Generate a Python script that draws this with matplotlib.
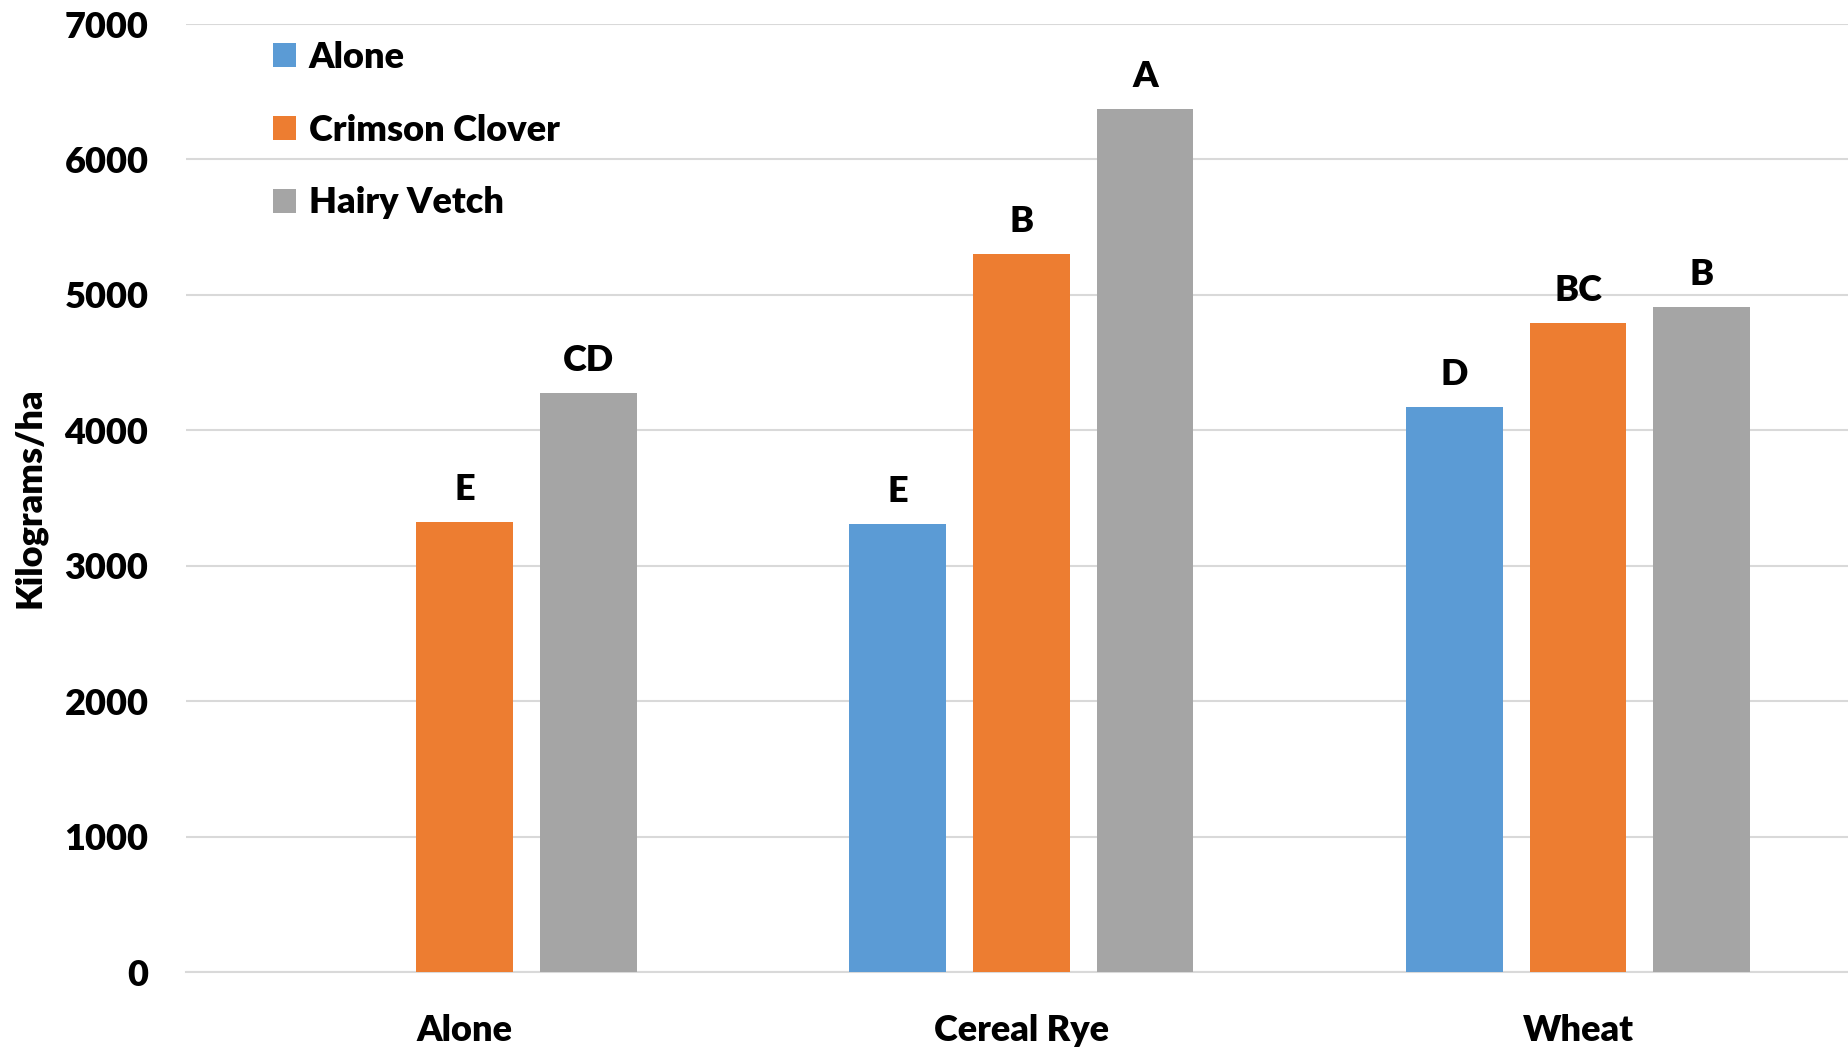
import numpy as np
import matplotlib.pyplot as plt

categories = ['Alone', 'Cereal Rye', 'Wheat']
series = ['Alone', 'Crimson Clover', 'Hairy Vetch']
alone = [np.nan, 3306, 4173]
crimson = [3323, 5298, 4791]
hairy = [4276, 6369, 4909]
letters = [['', 'E', 'D'], ['E', 'B', 'BC'], ['CD', 'A', 'B']]
colors = ['#5B9BD5', '#ED7D31', '#A5A5A5']

plt.rcParams['font.family'] = ['Lato', 'DejaVu Sans']

fig = plt.figure(figsize=(18.49, 10.47), dpi=100)
ax = fig.add_axes([186 / 1849, 75 / 1047, 1 - 186 / 1849, (972 - 24) / 1047])

fs = 26
fw = 'heavy'

x = np.arange(len(categories))
width = 0.174
step = 0.222
data = [alone, crimson, hairy]
for i, (vals, name) in enumerate(zip(data, series)):
    xs = x + (i - 1) * step
    ax.bar(xs, vals, width, color=colors[i], label=name, zorder=3)
    for xi, v, lab in zip(xs, vals, letters[i]):
        if lab and not np.isnan(v):
            ax.annotate(lab, (xi, v), xytext=(0, 16), textcoords='offset points',
                        ha='center', va='baseline', fontsize=fs, fontweight=fw)

ax.set_xlim(-0.501, 2.487)
ax.set_ylim(0, 7000)
ax.set_yticks(range(0, 7001, 1000))
ax.set_yticklabels([str(t) for t in range(0, 7001, 1000)], fontsize=fs, fontweight=fw)
ax.set_xticks(x)
ax.set_xticklabels(categories, fontsize=fs, fontweight=fw)
ax.tick_params(axis='y', length=0, pad=27)
ax.tick_params(axis='x', length=0, pad=30)
ax.yaxis.grid(True, color='#D9D9D9', linewidth=1.5, zorder=0)
ax.set_axisbelow(True)
for s in ['top', 'right', 'left']:
    ax.spines[s].set_visible(False)
ax.spines['bottom'].set_color('#D9D9D9')
ax.spines['bottom'].set_linewidth(1.5)

ax.set_ylabel('Kilograms/ha', fontsize=fs, fontweight=fw)
ax.yaxis.set_label_coords(-0.084, 0.5)

ax.legend(loc='upper left', bbox_to_anchor=(0.039, 1.005), frameon=False,
          prop={'size': fs, 'weight': fw}, handlelength=0.65, handleheight=0.65,
          handletextpad=0.35, labelspacing=1.1, borderaxespad=0.2)

fig.savefig('out.png', dpi=100)
